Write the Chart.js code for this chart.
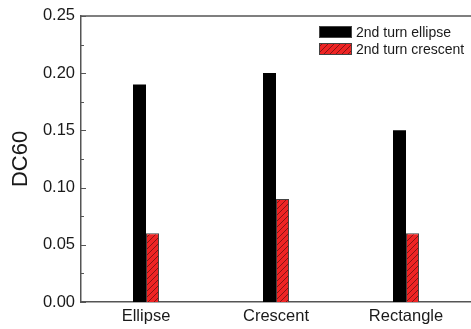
<!DOCTYPE html>
<html>
<head>
<meta charset="utf-8">
<script src="https://cdn.jsdelivr.net/npm/chart.js@4"></script>
<style>
  html, body { margin: 0; padding: 0; background: #fff; }
  #wrap { width: 471px; height: 329px; }
</style>
</head>
<body>
<div id="wrap"><canvas id="dcChart"></canvas></div>
<script>
// data
const categories = ['Ellipse', 'Crescent', 'Rectangle'];
const ellipseTurn = [0.19, 0.20, 0.15];
const crescentTurn = [0.06, 0.09, 0.06];
const seriesNames = ['2nd turn ellipse', '2nd turn crescent'];
const yMin = 0, yMax = 0.25, yStep = 0.05, yMinorStep = 0.025;

const FONT = '"Liberation Sans", Arial, Helvetica, sans-serif';
const axisColor = '#555';

// red bars with "/" hatching
function hatch() {
	const c = document.createElement('canvas');
	c.width = 6; c.height = 6;
	const g = c.getContext('2d');
	g.fillStyle = '#ee2424';
	g.fillRect(0, 0, 6, 6);
	g.strokeStyle = '#6a1010';
	g.lineWidth = 0.8;
	g.beginPath();
	g.moveTo(0, 6); g.lineTo(6, 0);
	g.moveTo(-3, 3); g.lineTo(3, -3);
	g.moveTo(3, 9); g.lineTo(9, 3);
	g.stroke();
	return g.createPattern(c, 'repeat');
}
const redHatch = hatch();

// top frame line, inward y ticks, legend inside the plot
const framePlugin = {
	id: 'frame',
	afterDraw(chart) {
		const { ctx, chartArea } = chart;
		const y = chart.scales.y;
		ctx.save();
		ctx.strokeStyle = axisColor;
		ctx.lineWidth = 1.5;
		ctx.beginPath();
		ctx.moveTo(chartArea.left, chartArea.top);
		ctx.lineTo(chartArea.right, chartArea.top);
		ctx.stroke();

		ctx.lineWidth = 1;
		for (let v = yMin; v <= yMax + 1e-9; v += yMinorStep) {
			const py = Math.round(y.getPixelForValue(v)) + 0.5;
			const major = Math.abs(v / yStep - Math.round(v / yStep)) < 1e-6;
			ctx.beginPath();
			ctx.moveTo(chartArea.left, py);
			ctx.lineTo(chartArea.left + (major ? 5 : 3), py);
			ctx.stroke();
		}

		// legend
		const bx = chartArea.right - 152, bw = 33, bh = 12;
		ctx.font = '14px ' + FONT;
		ctx.textBaseline = 'middle';
		chart.data.datasets.forEach((ds, i) => {
			const cy = 32 + i * 17;
			ctx.fillStyle = ds.backgroundColor;
			ctx.fillRect(bx, cy - bh / 2, bw, bh);
			ctx.strokeStyle = '#444';
			ctx.strokeRect(bx + 0.5, cy - bh / 2 + 0.5, bw - 1, bh - 1);
			ctx.fillStyle = '#1a1a1a';
			ctx.fillText(ds.label, bx + bw + 4, cy + 1);
		});
		ctx.restore();
	}
};

const dcChart = new Chart(document.getElementById('dcChart'), {
	type: 'bar',
	data: {
		labels: categories,
		datasets: [
			{
				label: seriesNames[0],
				data: ellipseTurn,
				backgroundColor: '#000',
				borderColor: '#222',
				borderWidth: 0,
			},
			{
				label: seriesNames[1],
				data: crescentTurn,
				backgroundColor: redHatch,
				borderColor: '#444',
				borderWidth: 1,
			},
		],
	},
	options: {
		responsive: true,
		maintainAspectRatio: false,
		animation: false,
		layout: { padding: { top: 12, right: 0, bottom: 0, left: 0 } },
		datasets: { bar: { barPercentage: 1, categoryPercentage: 0.2 } },
		plugins: {
			legend: { display: false },
			tooltip: { enabled: false },
		},
		scales: {
			x: {
				grid: { display: false, drawTicks: false },
				border: { color: axisColor, width: 1.5 },
				ticks: { color: '#1a1a1a', padding: 5, font: { family: FONT, size: 16.5 } },
				afterFit: (s) => { s.height = 27; },
			},
			y: {
				min: yMin,
				max: yMax,
				grid: { display: false, drawTicks: false },
				border: { color: axisColor, width: 1.5 },
				ticks: {
					stepSize: yStep,
					color: '#1a1a1a',
					padding: 6,
					font: { family: FONT, size: 16.5 },
					callback: (v) => v.toFixed(2),
				},
				title: {
					display: true,
					text: 'DC60',
					color: '#1a1a1a',
					font: { family: FONT, size: 22 },
					padding: { top: 8, bottom: 0 },
				},
				afterFit: (s) => { s.width = 81; },
			},
		},
	},
	plugins: [framePlugin],
});
</script>
</body>
</html>
